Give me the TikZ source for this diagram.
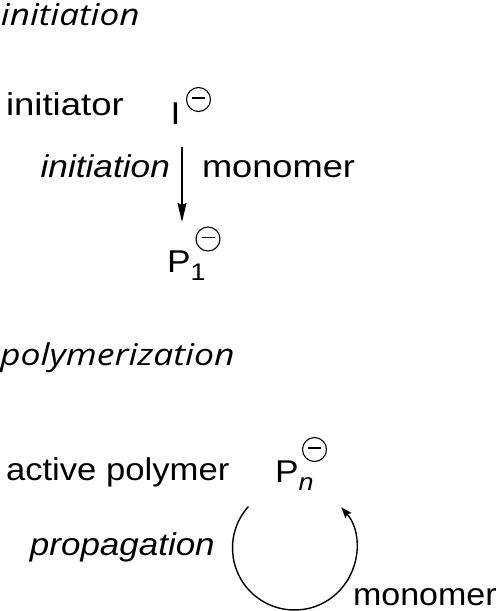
\documentclass[tikz,border=0pt]{standalone}
\usepackage{fontspec}
\setmainfont{Liberation Sans}
\newfontfamily\headfont{Open Sans}
\usetikzlibrary{arrows.meta}
\newcommand\sx[2]{\scalebox{#1}[1]{#2}}
\begin{document}
\begin{tikzpicture}[x=1pt,y=1pt,
  txt/.style={inner sep=0pt, outer sep=0pt, font=\fontsize{31.5}{36}\selectfont},
  subtxt/.style={inner sep=0pt, outer sep=0pt, font=\fontsize{24}{28}\selectfont},
  head/.style={inner sep=0pt, outer sep=0pt, font=\headfont\itshape\fontsize{30}{34}\selectfont},
  chg/.style={circle, draw, line width=1.1pt, minimum size=24pt, inner sep=0pt,
    path picture={\draw[line width=1.1pt] ([xshift=5.5pt,yshift=1.5pt]path picture bounding box.west) -- ([xshift=-5.5pt,yshift=1.5pt]path picture bounding box.east);}},
  rxn/.style={line width=1.4pt, -{Stealth[length=19pt,width=9pt,inset=2pt]}},
  cyc/.style={line width=1.4pt, -{Stealth[length=11pt,width=8pt,inset=2pt]}}
]
\path[use as bounding box] (0,0) rectangle (500,-611);

% initiation section
\node[head, anchor=base west] (h1) at (1,-25) {\sx{1.17}{initiation}};
\node[txt, anchor=base west] (ini) at (6,-115) {\sx{1.16}{initiator}};
\node[txt, anchor=base] (I) at (175.5,-124) {\sx{1.12}{I}};
\node[chg] (cI) at (198.5,-99.5) {};
\coordinate (a1) at (182,-147);
\coordinate (a2) at (182,-222);
\draw[rxn] (a1) -- (a2);
\node[txt, anchor=base east] (lI) at (170,-177) {\sx{1.12}{\itshape initiation}};
\node[txt, anchor=base west] (lM) at (202,-177) {\sx{1.15}{monomer}};
\node[txt, anchor=base west] (P1) at (167,-272) {\sx{1.12}{P}};
\node[subtxt, anchor=base west] (s1) at ([yshift=-8pt]P1.base east) {\sx{1.12}{1}};
\node[chg] (cP1) at (208,-239) {};

% polymerization section
\node[head, anchor=base west] (h2) at (0,-365) {\sx{1.185}{polymerization}};
\node[txt, anchor=base west] (ap) at (6,-480) {\sx{1.10}{active polymer}};
\node[txt, anchor=base west] (Pn) at (275,-482) {\sx{1.12}{P}};
\node[subtxt, anchor=base west] (sn) at ([yshift=-8pt]Pn.base east) {\sx{1.12}{\itshape n}};
\node[chg] (cPn) at (314.5,-449.5) {};
\node[txt, anchor=base west] (pr) at (30,-555) {\sx{1.11}{\itshape propagation}};
\node[txt, anchor=base west] (m2) at (353,-605) {\sx{1.08}{monomer}};
\coordinate (cc) at (294.5,-548);
\draw[cyc] (cc) ++(138:62) arc[start angle=138, end angle=401, radius=62];
\end{tikzpicture}
\end{document}
